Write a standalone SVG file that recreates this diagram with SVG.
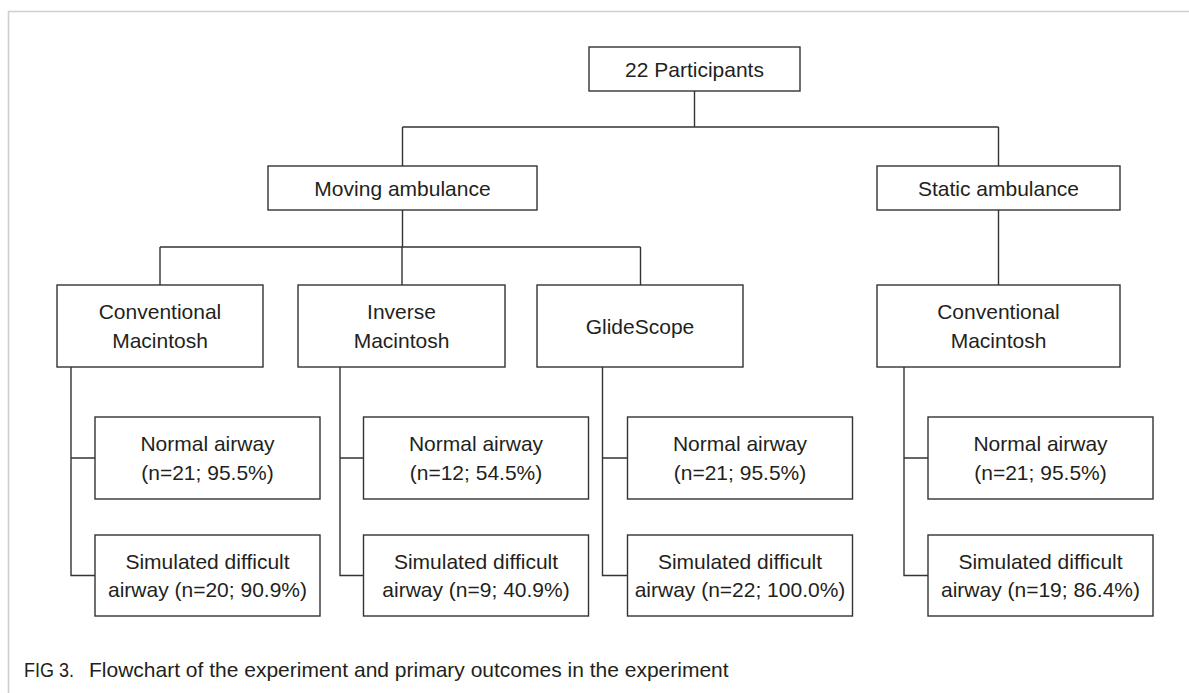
<svg xmlns="http://www.w3.org/2000/svg" width="1189" height="693" viewBox="0 0 1189 693">
<style>
.box{fill:#fff;stroke:#333;stroke-width:1.4}
.con{fill:none;stroke:#333;stroke-width:1.4}
.frame{fill:none;stroke:#cfcfcf;stroke-width:1.6}
text{font-family:"Liberation Sans",Arial,sans-serif;font-size:21px;fill:#231f20;text-anchor:middle}
.cap{text-anchor:start;font-size:21px}
</style>
<rect width="1189" height="693" fill="#fff"/>
<path class="frame" d="M8.5,693 V11.5 H1189"/>
<g id="connectors">
<path class="con" d="M694.5,91 V127 M402.5,127 H998.5 M402.5,127 V166 M998.5,127 V166"/>
<path class="con" d="M402.5,210 V247 M160,247 H640.5 M160,247 V285 M402,247 V285 M640.5,247 V285"/>
<path class="con" d="M998.5,210 V285"/>
<path class="con" d="M71,367 V575.5 H95 M71,458 H95"/>
<path class="con" d="M340,367 V575.5 H363.5 M340,458 H363.5"/>
<path class="con" d="M602.5,367 V575.5 H627.5 M602.5,458 H627.5"/>
<path class="con" d="M904,367 V575.5 H928 M904,458 H928"/>
</g>
<g id="participants"><rect class="box" x="589" y="47" width="211" height="44"/><text x="694.5" y="76.5">22 Participants</text></g>
<g id="moving"><rect class="box" x="268" y="166" width="269" height="44"/><text x="402.5" y="195.5">Moving ambulance</text></g>
<g id="static"><rect class="box" x="877" y="166" width="243" height="44"/><text x="998.5" y="195.5">Static ambulance</text></g>
<g id="conv1"><rect class="box" x="57" y="285" width="206" height="82"/><text x="160" y="319">Conventional</text><text x="160" y="348">Macintosh</text></g>
<g id="inverse"><rect class="box" x="298" y="285" width="207" height="82"/><text x="401.5" y="319">Inverse</text><text x="401.5" y="348">Macintosh</text></g>
<g id="glidescope"><rect class="box" x="537" y="285" width="206" height="82"/><text x="640" y="333.5">GlideScope</text></g>
<g id="conv2"><rect class="box" x="877" y="285" width="243" height="82"/><text x="998.5" y="319">Conventional</text><text x="998.5" y="348">Macintosh</text></g>
<g id="normal1"><rect class="box" x="95" y="417" width="225" height="82"/><text x="207.5" y="451">Normal airway</text><text x="207.5" y="480">(n=21; 95.5%)</text></g>
<g id="difficult1"><rect class="box" x="95" y="535" width="225" height="81"/><text x="207.5" y="568.5">Simulated difficult</text><text x="207.5" y="597">airway (n=20; 90.9%)</text></g>
<g id="normal2"><rect class="box" x="363.5" y="417" width="225" height="82"/><text x="476" y="451">Normal airway</text><text x="476" y="480">(n=12; 54.5%)</text></g>
<g id="difficult2"><rect class="box" x="363.5" y="535" width="225" height="81"/><text x="476" y="568.5">Simulated difficult</text><text x="476" y="597">airway (n=9; 40.9%)</text></g>
<g id="normal3"><rect class="box" x="627.5" y="417" width="225" height="82"/><text x="740" y="451">Normal airway</text><text x="740" y="480">(n=21; 95.5%)</text></g>
<g id="difficult3"><rect class="box" x="627.5" y="535" width="225" height="81"/><text x="740" y="568.5">Simulated difficult</text><text x="740" y="597">airway (n=22; 100.0%)</text></g>
<g id="normal4"><rect class="box" x="928" y="417" width="225" height="82"/><text x="1040.5" y="451">Normal airway</text><text x="1040.5" y="480">(n=21; 95.5%)</text></g>
<g id="difficult4"><rect class="box" x="928" y="535" width="225" height="81"/><text x="1040.5" y="568.5">Simulated difficult</text><text x="1040.5" y="597">airway (n=19; 86.4%)</text></g>
<text class="cap" x="24" y="677"><tspan textLength="50" lengthAdjust="spacingAndGlyphs">FIG 3.</tspan><tspan x="89">Flowchart of the experiment and primary outcomes in the experiment</tspan></text>
</svg>
